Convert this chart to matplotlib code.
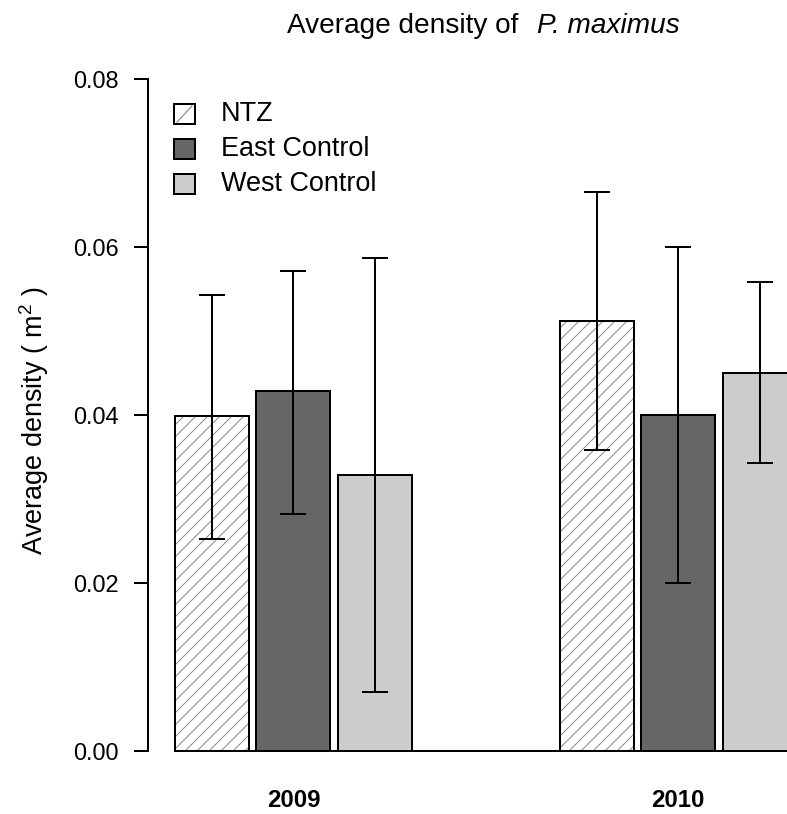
"""
Average density of P. maximus - grouped bars with error bars
"""
import matplotlib
matplotlib.use('Agg')
import matplotlib.pyplot as plt
from matplotlib.patches import Rectangle
from matplotlib.lines import Line2D

# ==========================================
# DATA
# ==========================================
years = ['2009', '2010']
sites = ['NTZ', 'East Control', 'West Control']

ntz_mean = [0.0399, 0.0512]
east_mean = [0.0429, 0.0400]
west_mean = [0.0329, 0.0450]

ntz_lo = [0.0252, 0.0358]
ntz_hi = [0.0543, 0.0665]
east_lo = [0.0282, 0.0200]
east_hi = [0.0571, 0.0600]
west_lo = [0.0070, 0.0343]
west_hi = [0.0587, 0.0558]

y_ticks = [0.00, 0.02, 0.04, 0.06, 0.08]

# ==========================================
# STYLE
# ==========================================
plt.rcParams['font.family'] = ['Liberation Sans', 'DejaVu Sans']
plt.rcParams['mathtext.fontset'] = 'custom'
plt.rcParams['mathtext.rm'] = 'Liberation Sans'
plt.rcParams['hatch.linewidth'] = 1.0

W, H, DPI = 787, 814, 72
fig = plt.figure(figsize=(W / DPI, H / DPI), dpi=DPI)

def fx(px):
    return px / W

def fy(py):
    return 1 - py / H

# plot region: y=0 at 751px, y=0.08 at 79px; 1 bar unit = 74px, x=0 at 175px
ax = fig.add_axes([fx(148), fy(751), fx(787 - 148), (751 - 79) / H])
ax.set_xlim(-27 / 74, (787 - 175) / 74)
ax.set_ylim(0, 0.08)

means = [ntz_mean, east_mean, west_mean]
lows = [ntz_lo, east_lo, west_lo]
highs = [ntz_hi, east_hi, west_hi]
fills = ['white', '#666666', '#cccccc']
hatches = ['//', None, None]

group_step = 5.2
bar_step = 1.1
for i in range(len(sites)):
    xs = [g * group_step + i * bar_step + 0.5 for g in range(len(years))]
    # fill + hatch (grey hatch lines)
    ax.bar(xs, means[i], width=1.0, color=fills[i], edgecolor='#8a8a8a',
           linewidth=0, hatch=hatches[i], zorder=2)
    # black outline
    ax.bar(xs, means[i], width=1.0, fill=False, edgecolor='black',
           linewidth=2, zorder=3)
    yerr = [[m - lo for m, lo in zip(means[i], lows[i])],
            [hi - m for m, hi in zip(means[i], highs[i])]]
    ax.errorbar(xs, means[i], yerr=yerr, fmt='none', ecolor='black',
                elinewidth=2, capsize=13, capthick=2, zorder=4)

# baseline
ax.plot([0, 10], [0, 0], color='black', linewidth=2, clip_on=False, zorder=5)

for s in ['top', 'right', 'bottom']:
    ax.spines[s].set_visible(False)
ax.spines['left'].set_linewidth(2)
ax.spines['left'].set_bounds(0, 0.08)

ax.set_yticks(y_ticks)
ax.set_yticklabels([f'{v:.2f}' for v in y_ticks])
ax.tick_params(axis='y', direction='out', length=14, width=2, pad=15,
               labelsize=23.5)

group_centers = [g * group_step + 1.6 for g in range(len(years))]
ax.set_xticks(group_centers)
ax.set_xticklabels(years, fontweight='bold', fontsize=24)
ax.tick_params(axis='x', length=0, pad=38)

# ==========================================
# LEGEND (drawn by hand, R style)
# ==========================================
leg_y = [114, 149, 184]
for i, (lab, fc, yy) in enumerate(zip(sites, fills, leg_y)):
    fig.patches.append(Rectangle((fx(174), fy(yy + 10)), fx(21), 20 / H,
                                 transform=fig.transFigure, facecolor=fc,
                                 edgecolor='black', linewidth=2))
    if hatches[i]:
        fig.lines.append(Line2D([fx(177), fx(192)], [fy(yy + 8), fy(yy - 8)],
                                transform=fig.transFigure,
                                color='#8a8a8a', linewidth=1.2))
    fig.text(fx(221), fy(yy), lab, fontsize=27, va='center', ha='left')

# ==========================================
# TITLES
# ==========================================
fig.text(fx(518), fy(33), 'Average density of', fontsize=28,
         ha='right', va='baseline')
fig.text(fx(537), fy(33), 'P. maximus', fontsize=28, style='italic',
         ha='left', va='baseline')
fig.text(fx(34), fy(421), 'Average density ( m$^{2}$ )', fontsize=27,
         rotation=90, ha='center', va='center')

fig.savefig('out.png', dpi=DPI)
